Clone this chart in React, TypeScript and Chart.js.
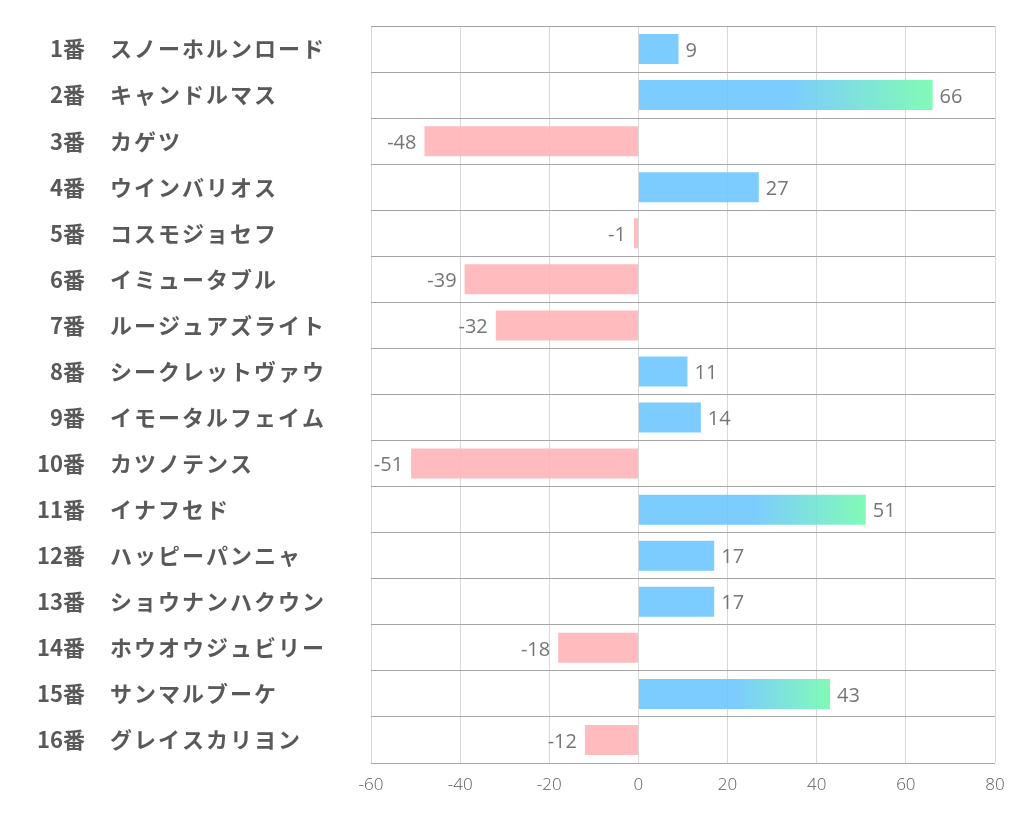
import React, { useEffect, useRef } from 'react';
import { Chart, registerables } from 'chart.js';

Chart.register(...registerables);

const numbers = ['1番', '2番', '3番', '4番', '5番', '6番', '7番', '8番', '9番', '10番', '11番', '12番', '13番', '14番', '15番', '16番'];
const horses = [
  'スノーホルンロード', 'キャンドルマス', 'カゲツ', 'ウインバリオス', 'コスモジョセフ', 'イミュータブル',
  'ルージュアズライト', 'シークレットヴァウ', 'イモータルフェイム', 'カツノテンス', 'イナフセド',
  'ハッピーパンニャ', 'ショウナンハクウン', 'ホウオウジュビリー', 'サンマルブーケ', 'グレイスカリヨン',
];
const values = [9, 66, -48, 27, -1, -39, -32, 11, 14, -51, 51, 17, 17, -18, 43, -12];
const xMin = -60;
const xMax = 80;
const xStep = 20;

const BLUE = 'rgba(110,198,255,0.9)';
const GREEN = 'rgba(115,250,175,0.9)';
const PINK = 'rgba(255,180,182,0.9)';

export default function App() {
  const ref = useRef<HTMLCanvasElement>(null);

  useEffect(() => {
    document.body.style.margin = '0';
    const canvas = ref.current!;

    const labelPlugin = {
      id: 'rowLabels',
      afterDatasetsDraw(chart: any) {
        const { ctx } = chart;
        const ys = chart.scales.y;
        const xs = chart.scales.x;
        ctx.save();
        ctx.textBaseline = 'middle';
        numbers.forEach((n, i) => {
          const py = ys.getPixelForValue(i);
          ctx.font = 'bold 22px "Noto Sans CJK JP"';
          ctx.fillStyle = '#595959';
          (ctx as any).letterSpacing = '0px';
          ctx.textAlign = 'right';
          ctx.fillText(n, 85, py);
          ctx.textAlign = 'left';
          (ctx as any).letterSpacing = '2px';
          ctx.fillText(horses[i], 110, py);
          (ctx as any).letterSpacing = '0px';

          const v = values[i];
          const px = xs.getPixelForValue(v);
          ctx.font = '20px "Open Sans"';
          ctx.fillStyle = '#767676';
          if (v >= 0) {
            ctx.textAlign = 'left';
            ctx.fillText(String(v), px + 7, py + 2);
          } else {
            ctx.textAlign = 'right';
            ctx.fillText(String(v), px - 8, py + 2);
          }
        });
        ctx.restore();
      },
    };

    const chart = new Chart(canvas, {
      type: 'bar',
      data: {
        labels: numbers,
        datasets: [
          {
            data: values,
            backgroundColor: (c: any) => {
              const v = values[c.dataIndex];
              if (v < 0) return PINK;
              if (v < 40) return BLUE;
              const ch = c.chart;
              if (!ch.chartArea || !ch.scales.x) return BLUE;
              const x0 = ch.scales.x.getPixelForValue(0);
              const x1 = ch.scales.x.getPixelForValue(v);
              const g = ch.ctx.createLinearGradient(x0, 0, x1, 0);
              g.addColorStop(0, BLUE);
              g.addColorStop(0.5, BLUE);
              g.addColorStop(1, GREEN);
              return g;
            },
            borderWidth: 0,
            barPercentage: 0.65,
            categoryPercentage: 1,
          },
        ],
      },
      options: {
        indexAxis: 'y',
        responsive: false,
        animation: false,
        layout: { padding: { top: 26, right: 27, left: 0, bottom: 0 } },
        plugins: { legend: { display: false }, tooltip: { enabled: false } },
        scales: {
          x: {
            type: 'linear',
            min: xMin,
            max: xMax,
            ticks: {
              stepSize: xStep,
              color: '#595959',
              font: { size: 17, family: '"Open Sans"', weight: '300' },
              padding: 12,
            },
            grid: { color: '#d9d9d9', drawTicks: false, lineWidth: 1 },
            border: { display: false },
            afterFit: (s: any) => {
              s.height = 71;
            },
          },
          y: {
            type: 'category',
            ticks: { display: false },
            grid: { offset: true, color: '#a6a6a6', drawTicks: false, lineWidth: 1 },
            border: { display: false },
            afterFit: (s: any) => {
              s.width = 371;
            },
          },
        },
      },
      plugins: [labelPlugin],
    });

    return () => chart.destroy();
  }, []);

  return <canvas ref={ref} width={1022} height={834} style={{ display: 'block' }} />;
}
